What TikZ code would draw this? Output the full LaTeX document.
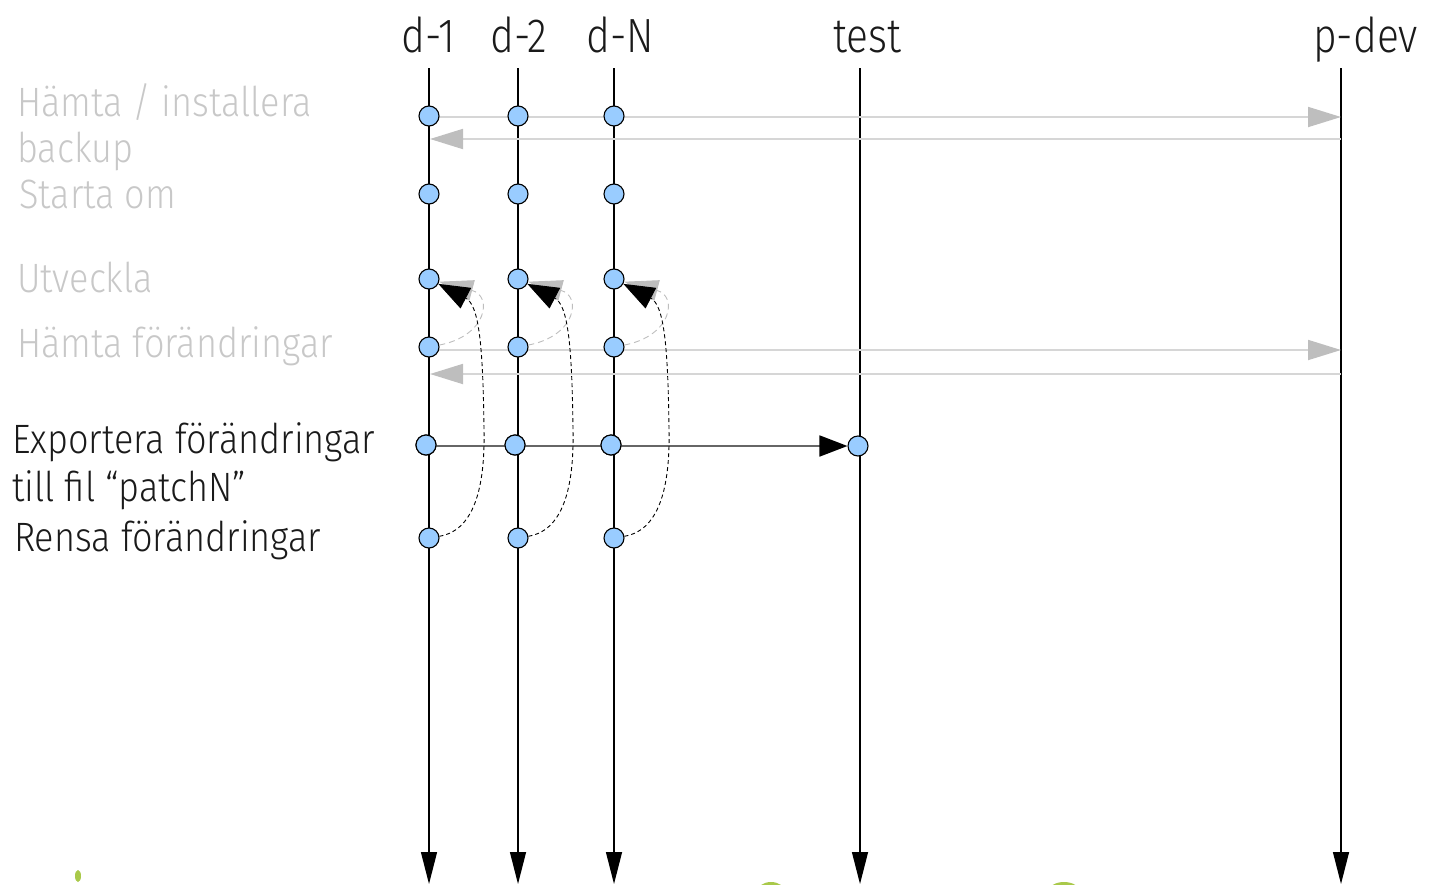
\documentclass[tikz,border=0pt]{standalone}
\usepackage{fontspec}
\setmainfont{Fira Sans Light}[FakeStretch=0.85]
\newfontfamily\labelfont{Fira Sans Light}[FakeStretch=0.88]
\usetikzlibrary{arrows.meta}
\definecolor{dotblue}{HTML}{99CCFF}
\definecolor{lgray}{HTML}{D6D6D6}
\definecolor{agray}{HTML}{BEBEBE}
\definecolor{tgray}{HTML}{C8C8C8}
\definecolor{tblack}{HTML}{1A1A1A}
\definecolor{dgray}{HTML}{666666}
\definecolor{blobgreen}{HTML}{A9C94A}
\begin{document}
\begin{tikzpicture}[x=1bp,y=-1bp,
  glabel/.style={anchor=base west,inner sep=0pt,text=tgray,font=\labelfont\fontsize{41bp}{47bp}\selectfont},
  blabel/.style={anchor=base west,inner sep=0pt,text=tblack,font=\labelfont\fontsize{41bp}{47bp}\selectfont},
  header/.style={anchor=base west,inner sep=0pt,text=tblack,font=\fontsize{48bp}{52bp}\selectfont},
  vline/.style={line width=1.3bp,black,-{Triangle[length=32bp,width=16bp]}},
  garrow/.style={line width=1.8bp,lgray,-{Triangle[length=33bp,width=20bp,fill=agray,color=agray]}},
  darrow/.style={line width=1.8bp,dgray,-{Triangle[length=28bp,width=21bp,fill=black,color=black]}},
  dotnode/.style={circle,draw=black,line width=1.1bp,fill=dotblue,minimum size=20bp,inner sep=0pt},
  blackcurve/.style={black,line width=0.9bp,dash pattern=on 4bp off 3bp,-{Triangle[length=31bp,width=23bp,fill=black,color=black]}},
  graycurve/.style={agray,line width=0.9bp,dash pattern=on 6bp off 4bp,-{Triangle[length=34bp,width=21bp,fill=agray,color=agray]}}
]
\useasboundingbox (0,0) rectangle (1429,884);

% green blobs at the bottom edge
\fill[blobgreen] (78,876) ellipse (3 and 6);
\fill[blobgreen] (771,892) ellipse (14 and 10);
\fill[blobgreen] (1064,892) ellipse (16 and 10);

% headers
\node[header] (h1) at (401,52) {d-1};
\node[header] (h2) at (490,52) {d-2};
\node[header] (h3) at (586,52) {d-N};
\node[header] (ht) at (833,52) {test};
\node[header] (hp) at (1313,52) {p-dev};

% labels
\node[glabel] (l1) at (17,116) {Hämta / installera};
\node[glabel] (l2) at (17,162) {backup};
\node[glabel] (l3) at (19,208) {Starta om};
\node[glabel] (l4) at (17,292) {Utveckla};
\node[glabel] (l5) at (17,357) {Hämta förändringar};
\node[blabel] (l6) at (12,453) {Exportera förändringar};
\node[blabel] (l7) at (12,501) {till fil “patchN”};
\node[blabel] (l8) at (14,551) {Rensa förändringar};

% vertical time lines
\foreach \n/\x in {1/429,2/518,3/614,t/860,p/1341}{
  \coordinate (top\n) at (\x,68);
  \coordinate (bot\n) at (\x,884);
  \draw[vline] (top\n) -- (bot\n);
}

% coordinates of dots
\foreach \n/\x in {1/429,2/518,3/614}{
  \coordinate (c1-\n) at (\x,116);
  \coordinate (c2-\n) at (\x,194);
  \coordinate (c3-\n) at (\x,279);
  \coordinate (c4-\n) at (\x,347);
  \coordinate (c5-\n) at ({\x-3},445);
  \coordinate (c6-\n) at (\x,538);
}
\coordinate (ctest) at (858,446);

% gray exchange arrows with p-dev
\coordinate (pa1) at (1341,117);
\coordinate (sa1) at (429,117);
\draw[garrow] (sa1) -- (pa1);
\coordinate (pb1) at (1341,139);
\coordinate (sb1) at (430,139);
\draw[garrow] (pb1) -- (sb1);
\coordinate (pa4) at (1341,350);
\coordinate (sa4) at (429,350);
\draw[garrow] (sa4) -- (pa4);
\coordinate (pb4) at (1341,374);
\coordinate (sb4) at (430,374);
\draw[garrow] (pb4) -- (sb4);

% dots
\foreach \n in {1,2,3}{
  \foreach \r in {1,...,6}{
    \node[dotnode] (r\r-\n) at (c\r-\n) {};
  }
}
\node[dotnode] (rtest) at (ctest) {};

% export arrow to test
\coordinate (s5) at (426,446);
\draw[darrow] (s5) -- (rtest);
\foreach \n in {1,2,3}{ \node[dotnode] at (c5-\n) {}; }

% curved arrows
\foreach \n/\x in {1/429,2/518,3/614}{
  \draw[graycurve] (r4-\n) .. controls ({\x+58},336) and ({\x+64},296) .. (r3-\n);
  \draw[blackcurve] (r6-\n) .. controls ({\x+48},530) and ({\x+56},480) .. ({\x+55},430)
        .. controls ({\x+54},345) and ({\x+50},305) .. (r3-\n);
}
\end{tikzpicture}
\end{document}
